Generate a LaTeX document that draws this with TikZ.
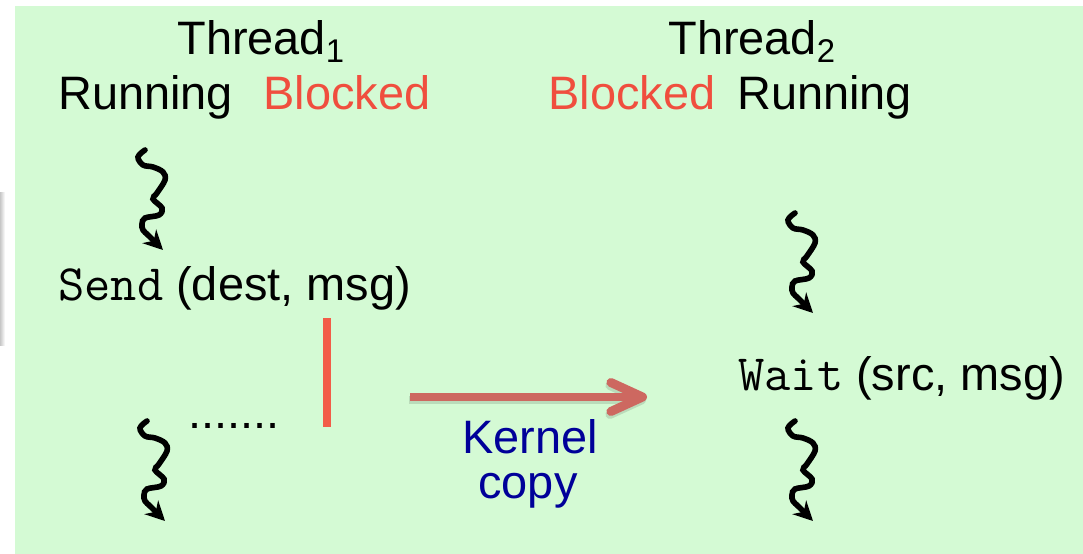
\documentclass[tikz,border=0pt]{standalone}
\usepackage{fontspec}
\setmainfont{Liberation Sans}
\usepackage{xcolor}
\usetikzlibrary{arrows.meta}
\definecolor{slidegreen}{RGB}{212,250,212}
\definecolor{blockred}{RGB}{240,78,62}
\definecolor{barred}{RGB}{242,92,72}
\definecolor{copyred}{RGB}{205,104,96}
\definecolor{kernelblue}{RGB}{0,0,153}

\begin{document}
\begin{tikzpicture}[x=0.02cm,y=-0.02cm,
        every node/.style={inner sep=0pt,anchor=base west,font=\fontsize{26.7}{32}\selectfont},
        squig/.pic={\draw[line width=3.2pt,line cap=round,-{Stealth[length=11pt,width=11pt]}]
                plot[smooth,tension=0.6] coordinates {(0,0) (-7,7) (-2,15) (8,17) (18,22) (20,30) (12,43) (8,49) (17,58) (14,65) (0,68) (-3,74) (-2,80) (4,86) (18,100)};}]
        \useasboundingbox (0,0) rectangle (1083,554);
        \fill[slidegreen] (15,6) rectangle (1083,554);
        \shade[left color=black!22,right color=white] (0,193) rectangle (5,345);
        \node (th1) at (177,55) {Thread\textsubscript{1}};
        \node (run1) at (58,110) {Running};
        \node[blockred] (blk1) at (263,110) {Blocked};
        \node (th2) at (668,55) {Thread\textsubscript{2}};
        \node[blockred] (blk2) at (548,110) {Blocked};
        \node (run2) at (737,110) {Running};
        \node (send) at (58,300) {{\ttfamily\fontsize{29}{32}\selectfont Send} (dest, msg)};
        \node (wait) at (738,390) {{\ttfamily\fontsize{29}{32}\selectfont Wait} (src, msg)};
        \node (dots) at (188,428) {.......};
        \node[kernelblue,anchor=base] (kern) at (530,453) {Kernel};
        \node[kernelblue,anchor=base] (copy) at (528,498) {copy};
        \pic at (145,150) {squig};
        \pic at (147,421) {squig};
        \pic at (795,213) {squig};
        \pic at (795,421) {squig};
        \coordinate (bartop) at (327,318);
        \coordinate (barbot) at (327,427);
        \draw[barred,line width=4pt] (bartop) -- (barbot);
        \coordinate (cpy1) at (410,397);
        \coordinate (cpy2) at (647,397);
        \draw[black,opacity=.12,line width=5.1pt,-{Straight Barb[length=18pt,width=16.5pt,round]}] ([shift={(-1,3)}]cpy1) -- ([shift={(-1,3)}]cpy2);
        \draw[copyred,line width=5.1pt,-{Straight Barb[length=18pt,width=16.5pt,round]}] (cpy1) -- (cpy2);
\end{tikzpicture}
\end{document}
